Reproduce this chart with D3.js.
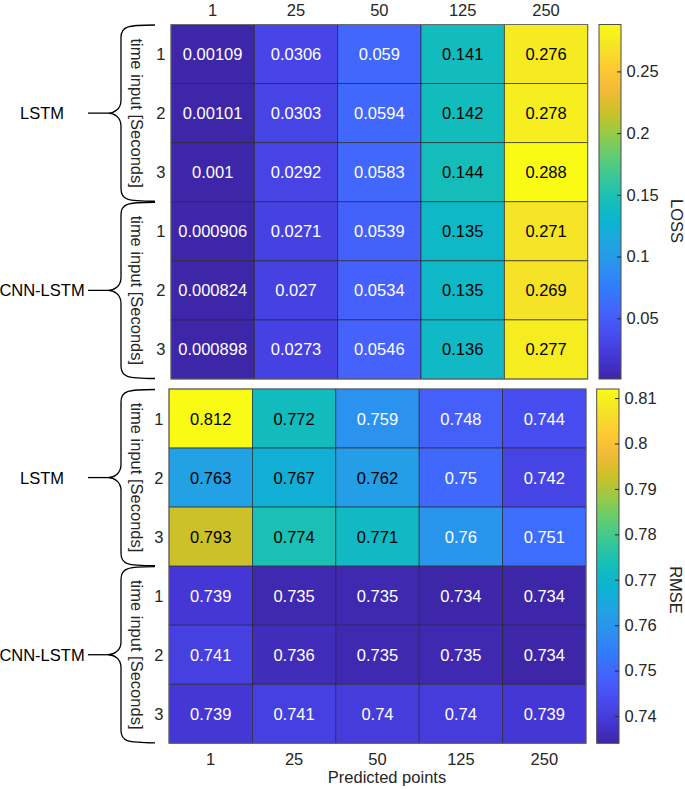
<!DOCTYPE html>
<html>
<head>
<meta charset="utf-8">
<script src="https://cdn.jsdelivr.net/npm/d3@7/dist/d3.min.js"></script>
<style>
  html, body { margin: 0; padding: 0; background: #fff; }
  svg { display: block; }
  text { font-family: "Liberation Sans", Arial, Helvetica, sans-serif; }
</style>
</head>
<body>
<svg id="chart" width="685" height="789"></svg>
<script>
// ---------------- DATA ----------------
const predictedPoints = ["1", "25", "50", "125", "250"];
const models = ["LSTM", "CNN-LSTM"];
const timeInputs = ["1", "2", "3"];
const rowKeys = ["LSTM-1", "LSTM-2", "LSTM-3", "CNN-LSTM-1", "CNN-LSTM-2", "CNN-LSTM-3"];

const lossLSTM1 = [0.00109, 0.0306, 0.059, 0.141, 0.276];
const lossLSTM2 = [0.00101, 0.0303, 0.0594, 0.142, 0.278];
const lossLSTM3 = [0.001, 0.0292, 0.0583, 0.144, 0.288];
const lossCNN1 = [0.000906, 0.0271, 0.0539, 0.135, 0.271];
const lossCNN2 = [0.000824, 0.027, 0.0534, 0.135, 0.269];
const lossCNN3 = [0.000898, 0.0273, 0.0546, 0.136, 0.277];

const rmseLSTM1 = [0.812, 0.772, 0.759, 0.748, 0.744];
const rmseLSTM2 = [0.763, 0.767, 0.762, 0.75, 0.742];
const rmseLSTM3 = [0.793, 0.774, 0.771, 0.76, 0.751];
const rmseCNN1 = [0.739, 0.735, 0.735, 0.734, 0.734];
const rmseCNN2 = [0.741, 0.736, 0.735, 0.735, 0.734];
const rmseCNN3 = [0.739, 0.741, 0.74, 0.74, 0.739];

const lossTicks = [0.05, 0.1, 0.15, 0.2, 0.25];
const rmseTicks = [0.74, 0.75, 0.76, 0.77, 0.78, 0.79, 0.8, 0.81];

// parula colormap anchors (MATLAB)
const parula = [
  [0.2422,0.1504,0.6603],[0.2704,0.2138,0.8346],[0.2813,0.2985,0.9397],[0.2710,0.3860,0.9898],
  [0.2006,0.4803,0.9906],[0.1716,0.5655,0.9393],[0.1288,0.6408,0.8910],[0.0433,0.7039,0.8242],
  [0.0770,0.7468,0.7224],[0.2061,0.7808,0.6065],[0.3671,0.8021,0.4563],[0.5886,0.7913,0.2833],
  [0.7945,0.7554,0.1570],[0.9523,0.7284,0.2237],[0.9938,0.7974,0.1974],[0.9601,0.8963,0.1507],
  [0.9769,0.9839,0.0805]
];

// ---------------- BUILD ----------------
const FS = 16.5;
const svg = d3.select("#chart");
const parulaPos = parula.map((c, i) => i === parula.length - 1 ? 1 : i * 16 / 255);
const parulaColors = parula.map(c => d3.rgb(c[0]*255, c[1]*255, c[2]*255).formatHex());
const parulaT = d3.scaleLinear().domain(parulaPos).range(parulaColors).interpolate(d3.interpolateRgb).clamp(true);

const fmt = d3.format(".3~g");
const tickFmt = d3.format("~g");
const textColor = "#262626";

function luminance(c) {
  const r = d3.rgb(c);
  return (0.299 * r.r + 0.587 * r.g + 0.114 * r.b) / 255;
}

const panels = [
  { rows: [lossLSTM1, lossLSTM2, lossLSTM3, lossCNN1, lossCNN2, lossCNN3], ticks: lossTicks, label: "LOSS",
    x0: 171, x1: 587.7, y0: 24.5, y1: 379, cbx0: 599, cbx1: 621, labelX: 677, labelY: 221, topAxis: true, id: "g1" },
  { rows: [rmseLSTM1, rmseLSTM2, rmseLSTM3, rmseCNN1, rmseCNN2, rmseCNN3], ticks: rmseTicks, label: "RMSE",
    x0: 169, x1: 586, y0: 389, y1: 743.3, cbx0: 596.7, cbx1: 619, labelX: 676, labelY: 590, topAxis: false, id: "g2" }
];

const defs = svg.append("defs");

panels.forEach(p => {
  const all = p.rows.flat();
  const ext = d3.extent(all);
  const color = v => parulaT((v - ext[0]) / (ext[1] - ext[0]));

  const x = d3.scaleBand().domain(predictedPoints).range([p.x0, p.x1]);
  const y = d3.scaleBand().domain(rowKeys).range([p.y0, p.y1]);

  const cells = [];
  p.rows.forEach((row, ri) => row.forEach((v, ci) => cells.push({ r: rowKeys[ri], c: predictedPoints[ci], v })));

  const g = svg.append("g");
  g.selectAll("rect.cell").data(cells).join("rect")
    .attr("class", "cell")
    .attr("x", d => x(d.c)).attr("y", d => y(d.r))
    .attr("width", x.bandwidth()).attr("height", y.bandwidth())
    .attr("fill", d => color(d.v))
    .attr("stroke", "rgba(38,38,38,0.8)").attr("stroke-width", 0.8);

  g.selectAll("text.val").data(cells).join("text")
    .attr("class", "val")
    .attr("x", d => x(d.c) + x.bandwidth() / 2)
    .attr("y", d => y(d.r) + y.bandwidth() / 2)
    .attr("text-anchor", "middle").attr("dominant-baseline", "central")
    .attr("font-size", FS)
    .attr("fill", d => luminance(color(d.v)) > 0.5 ? "#000" : "#fff")
    .text(d => fmt(d.v));

  g.append("rect").attr("x", p.x0).attr("y", p.y0).attr("width", p.x1 - p.x0).attr("height", p.y1 - p.y0)
    .attr("fill", "none").attr("stroke", "#6b6b6b").attr("stroke-width", 1);

  // x axis labels
  if (p.topAxis) {
    g.selectAll("text.xt").data(predictedPoints).join("text")
      .attr("x", d => x(d) + x.bandwidth() / 2).attr("y", 15.9)
      .attr("text-anchor", "middle").attr("font-size", FS).attr("fill", textColor).text(d => d);
  } else {
    g.selectAll("text.xt").data(predictedPoints).join("text")
      .attr("x", d => x(d) + x.bandwidth() / 2).attr("y", 764.5)
      .attr("text-anchor", "middle").attr("font-size", FS).attr("fill", textColor).text(d => d);
    g.append("text").attr("x", 387).attr("y", 783)
      .attr("text-anchor", "middle").attr("font-size", FS).attr("fill", textColor).text("Predicted points");
  }

  // row labels
  g.selectAll("text.yt").data(rowKeys).join("text")
    .attr("x", p.x0 - 5.5).attr("y", d => y(d) + y.bandwidth() / 2)
    .attr("text-anchor", "end").attr("dominant-baseline", "central")
    .attr("font-size", FS).attr("fill", textColor)
    .text((d, i) => timeInputs[i % 3]);

  // groups: braces + labels
  models.forEach((m, mi) => {
    const top = y(rowKeys[mi * 3]);
    const bot = y(rowKeys[mi * 3 + 2]) + y.bandwidth();
    const mid = (top + bot) / 2;
    const sx = 121, ex = 155, tip = 108;
    const path = `M${ex},${top + 0.5} C${127},${top + 0.5} ${sx},${top + 2} ${sx},${top + 13}` +
      ` L${sx},${mid - 13} C${sx},${mid - 4} ${tip + 6},${mid} ${tip},${mid}` +
      ` C${tip + 6},${mid} ${sx},${mid + 4} ${sx},${mid + 13}` +
      ` L${sx},${bot - 13} C${sx},${bot - 2} ${127},${bot - 0.5} ${ex},${bot - 0.5}`;
    g.append("path").attr("d", path).attr("fill", "none").attr("stroke", "#000").attr("stroke-width", 1.3);
    g.append("line").attr("x1", 88).attr("x2", tip).attr("y1", mid).attr("y2", mid)
      .attr("stroke", "#000").attr("stroke-width", 1.3);
    g.append("text").attr("x", 42).attr("y", mid).attr("text-anchor", "middle").attr("dominant-baseline", "central")
      .attr("font-size", FS).attr("fill", "#000").text(m);
    g.append("text").attr("transform", `translate(137,${mid}) rotate(90)`)
      .attr("text-anchor", "middle").attr("dominant-baseline", "central")
      .attr("font-size", FS).attr("fill", textColor).text("time input [Seconds]");
  });

  // colorbar
  const grad = defs.append("linearGradient").attr("id", p.id)
    .attr("x1", 0).attr("y1", 1).attr("x2", 0).attr("y2", 0);
  grad.selectAll("stop").data(parulaPos).join("stop")
    .attr("offset", d => d).attr("stop-color", (d, i) => parulaColors[i]);
  const cy = d3.scaleLinear().domain(ext).range([p.y1, p.y0]);
  g.append("rect").attr("x", p.cbx0).attr("y", p.y0).attr("width", p.cbx1 - p.cbx0).attr("height", p.y1 - p.y0)
    .attr("fill", `url(#${p.id})`).attr("stroke", "#4d4d4d").attr("stroke-width", 1);
  const axis = d3.axisRight(cy).tickValues(p.ticks).tickSize(4).tickFormat(tickFmt);
  const ag = g.append("g").attr("transform", `translate(${p.cbx1},0)`);
  ag.call(axis);
  ag.select(".domain").remove();
  ag.selectAll(".tick line").attr("x2", -4).attr("stroke", textColor);
  ag.selectAll(".tick text").attr("x", 5.5).attr("font-size", FS).attr("fill", textColor)
    .attr("font-family", "\"Liberation Sans\", Arial, sans-serif");
  g.append("text").attr("transform", `translate(${p.labelX},${p.labelY}) rotate(90)`)
    .attr("text-anchor", "middle").attr("dominant-baseline", "central")
    .attr("font-size", FS).attr("fill", textColor).text(p.label);
});
</script>
</body>
</html>
